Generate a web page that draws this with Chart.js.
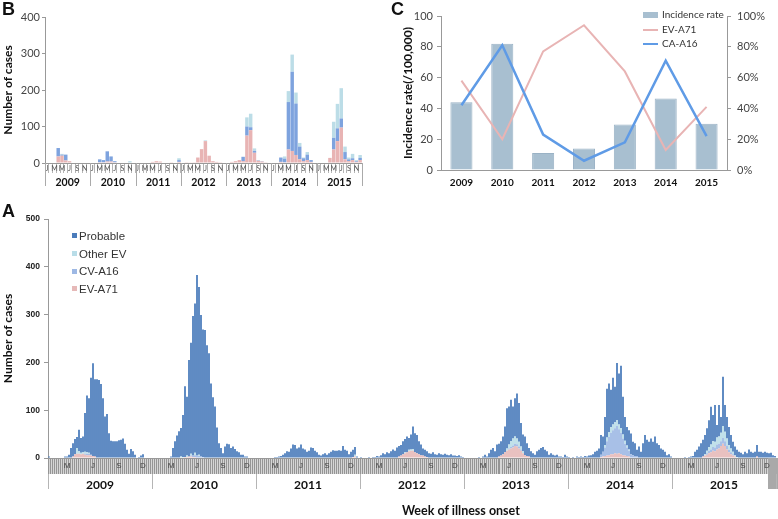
<!DOCTYPE html>
<html>
<head>
<meta charset="utf-8">
<title>HFMD cases by week, month and year</title>
<script src="https://cdn.jsdelivr.net/npm/chart.js@4.4.1/dist/chart.umd.min.js"></script>
<style>
  body { margin: 0; background: #fff; }
  #page { position: relative; width: 778px; height: 519px; overflow: hidden; }
  canvas { position: absolute; }
  .tag { position: absolute; font: bold 18px "Liberation Sans", Arial, sans-serif; color: #111; line-height: 18px; }
  .legA { position: absolute; left: 72px; top: 228px; font: 11.5px "Liberation Sans", Arial, sans-serif; color: #333; }
  .legA div { height: 17.6px; line-height: 17.6px; white-space: nowrap; }
  .legA span { display: inline-block; width: 5px; height: 5px; margin-right: 2px; vertical-align: middle; position: relative; top: -1px; }
  .legC { position: absolute; left: 643px; top: 7px; font: 10px Lato, sans-serif; color: #333; }
  .legC div { height: 14.5px; line-height: 14.5px; white-space: nowrap; }
  .legC .box { display: inline-block; width: 15px; height: 6px; background: #a8bfd0; margin-right: 4px; vertical-align: middle; }
  .legC .ln { display: inline-block; width: 15px; height: 2px; margin-right: 4px; vertical-align: middle; }
  .xtitle { position: absolute; left: 402px; top: 503px; font: bold 12.5px Lato, sans-serif; color: #111; white-space: nowrap; }
</style>
</head>
<body>
<div id="page">
  <canvas id="chartB" width="390" height="190" style="left:0;top:0"></canvas>
  <canvas id="chartC" width="388" height="190" style="left:390px;top:0"></canvas>
  <canvas id="chartA" width="778" height="329" style="left:0;top:190px"></canvas>
  <div class="tag" style="left:2px;top:0">B</div>
  <div class="tag" style="left:391px;top:0">C</div>
  <div class="tag" style="left:2px;top:202px">A</div>
  <div class="legA">
    <div><span style="background:#4a7cbb"></span>Probable</div>
    <div><span style="background:#b9dde8"></span>Other EV</div>
    <div><span style="background:#9db8e4"></span>CV-A16</div>
    <div><span style="background:#e6b9b8"></span>EV-A71</div>
  </div>
  <div class="legC">
    <div><span class="box"></span>Incidence rate</div>
    <div><span class="ln" style="background:#e8b4b4"></span>EV-A71</div>
    <div><span class="ln" style="background:#5f9be6"></span>CA-A16</div>
  </div>
  <div class="xtitle">Week of illness onset</div>
</div>
<script>
const yearLabels = ['2009', '2010', '2011', '2012', '2013', '2014', '2015'];

// panel C: yearly incidence and share of typed cases
const incidenceRate = [44, 82, 11, 14, 29.5, 46.5, 30];
const ev71Share = [58, 20, 77, 94, 64, 13, 41];
const ca16Share = [42, 81, 23, 6, 18, 71, 22];

// panel B: lab-confirmed cases per month, Jan..Dec for each year
const monthLettersB = ['J', 'M', 'M', 'J', 'S', 'N'];
const monthSlotsB = [0, 2, 4, 6, 8, 10];
const ev71Monthly = [
  0, 0, 0, 18, 20, 7, 5, 0, 0, 0, 0, 0,
  0, 0, 2, 2, 4, 4, 2, 0, 0, 0, 0, 0,
  0, 0, 0, 0, 3, 5, 4, 0, 0, 2, 0, 3,
  0, 2, 1, 2, 15, 38, 60, 20, 5, 3, 2, 0,
  0, 3, 5, 8, 5, 75, 90, 28, 6, 4, 2, 0,
  0, 0, 3, 2, 37, 33, 22, 10, 5, 8, 3, 0,
  0, 0, 0, 14, 37, 60, 97, 10, 5, 8, 3, 8
];
const cva16Monthly = [
  0, 0, 0, 23, 3, 16, 0, 0, 0, 0, 0, 0,
  0, 0, 8, 6, 28, 14, 3, 0, 0, 0, 0, 0,
  0, 0, 0, 0, 0, 0, 0, 0, 0, 0, 0, 5,
  0, 0, 0, 0, 0, 0, 0, 0, 0, 0, 0, 0,
  0, 0, 0, 0, 12, 25, 8, 5, 1, 1, 0, 0,
  0, 0, 12, 10, 130, 217, 141, 35, 8, 15, 5, 0,
  0, 0, 0, 0, 32, 35, 25, 20, 5, 5, 2, 6
];
const otherMonthly = [
  0, 0, 0, 0, 2, 0, 0, 0, 0, 0, 0, 0,
  0, 0, 0, 0, 0, 0, 0, 0, 0, 0, 5, 0,
  0, 0, 0, 0, 0, 0, 0, 0, 0, 0, 0, 5,
  0, 0, 0, 0, 0, 0, 2, 0, 0, 0, 0, 0,
  0, 0, 0, 0, 0, 25, 37, 7, 1, 0, 0, 0,
  0, 0, 0, 6, 30, 47, 30, 10, 2, 7, 0, 0,
  0, 0, 0, 0, 44, 67, 83, 15, 5, 12, 3, 8
];

// panel A: all cases per week (52 weeks a year)
const monthLettersA = ['M', 'J', 'S', 'D'];
const monthWeeksA = [9, 22, 35, 47];
const total2009 = [3,1,0,0,1,0,0,1,3,3, 7,21,31,40,44,59,42,45,94,131, 125,168,198,165,165,163,155,125,87,92, 52,36,35,35,35,37,38,41,30,17, 9,19,14,7,1,2,5,8,1,0, 0,0];
const total2010 = [0,0,1,0,0,0,0,0,1,3, 21,35,47,56,63,90,150,128,205,241, 297,323,383,358,299,269,268,236,219,156, 127,108,64,31,21,10,24,30,29,21, 24,19,14,12,7,7,3,3,1,0, 1,0];
const total2011 = [1,0,1,0,0,1,0,0,1,2, 2,3,4,7,10,14,13,20,28,27, 20,22,28,20,18,13,15,22,21,15, 12,7,5,8,10,7,10,13,16,15, 15,16,15,25,17,15,8,13,17,23, 3,0];
const total2012 = [2,1,0,1,2,1,2,2,4,3, 6,10,8,12,10,14,18,15,22,25, 27,35,40,45,42,49,66,52,48,35, 28,20,17,14,10,9,12,8,7,10, 8,7,9,7,6,8,5,5,4,6, 3,2];
const total2013 = [0,0,1,0,0,1,0,2,1,3, 7,3,10,17,21,14,28,30,35,45, 66,104,108,122,108,125,135,115,73,49, 45,31,21,14,10,7,14,17,21,23, 17,14,7,10,7,5,7,3,3,2, 7,3];
const total2014 = [2,1,2,1,3,2,3,2,4,3, 5,6,8,13,15,20,48,45,86,145, 156,143,168,149,199,177,193,128,86,65, 58,51,34,31,17,24,13,31,48,38, 34,41,34,45,31,27,20,17,13,6, 8,3];
const total2015 = [1,0,1,0,1,0,2,1,2,3, 4,13,17,24,31,38,48,62,79,107, 90,111,69,111,86,170,111,86,65,48, 34,24,17,13,11,8,13,10,18,13, 11,13,27,13,13,11,13,11,10,11, 6,4];

// panel A: typed cases per week
const ev71_2009 = [0,0,0,0,0,0,0,0,0,0, 0,0,3,8,9,9,8,9,7,6, 6,5,4,3,0,0,0,0,0,0, 0,0,0,0,0,0,0,0,0,0, 0,0,0,0,0,0,0,0,0,0, 0,0];
const ev71_2010 = [0,0,0,0,0,0,0,0,0,0, 0,0,0,0,0,0,2,2,3,3, 2,2,0,0,0,0,0,0,0,0, 0,0,0,0,0,0,0,0,0,0, 0,0,0,0,0,0,0,0,0,0, 0,0];
const ev71_2011 = [0,0,0,0,0,0,0,0,0,0, 0,0,0,0,0,0,0,0,0,0, 0,0,0,0,0,0,0,0,0,0, 0,0,0,0,0,0,0,0,0,0, 0,0,0,0,0,0,0,0,2,3, 0,0];
const ev71_2012 = [0,0,0,0,0,0,0,0,0,0, 0,0,0,0,0,0,0,0,0,3, 5,8,10,12,14,15,15,12,10,8, 6,5,3,2,0,0,0,0,0,0, 0,0,0,0,0,0,0,0,0,0, 0,0];
const ev71_2013 = [0,0,0,0,0,0,0,0,0,0, 0,0,0,0,0,0,0,3,5,8, 12,15,18,20,22,25,24,20,15,10, 6,4,3,0,0,0,0,0,0,0, 0,0,0,0,0,0,0,0,0,0, 0,0];
const ev71_2014 = [0,0,0,0,0,0,0,0,0,0, 0,0,0,0,0,0,2,3,4,5, 6,8,8,10,9,10,8,6,5,4, 3,0,0,0,0,0,0,0,0,0, 0,0,0,0,0,0,0,0,0,0, 0,0];
const ev71_2015 = [0,0,0,0,0,0,0,0,0,0, 0,0,0,0,0,3,5,7,10,12, 15,14,18,20,25,30,25,18,12,8, 5,3,0,0,0,0,0,0,0,0, 0,0,3,0,0,0,0,0,0,0, 0,0];

const cva16_2009 = [0,0,0,0,0,0,0,0,0,0, 0,0,0,0,0,0,0,0,2,3, 3,2,0,0,0,0,0,0,0,0, 0,0,0,0,0,0,0,0,0,0, 0,0,0,0,0,0,0,0,0,0, 0,0];
const cva16_2010 = [0,0,0,0,0,0,0,0,0,0, 0,0,0,0,0,0,0,0,0,2, 3,4,5,4,3,2,0,0,0,0, 0,0,0,0,0,0,0,0,0,0, 0,0,0,0,0,0,0,0,0,0, 0,0];
const cva16_2011 = [0,0,0,0,0,0,0,0,0,0, 0,0,0,0,0,0,0,0,0,0, 0,0,0,0,0,0,0,0,0,0, 0,0,0,0,0,0,0,0,0,0, 0,0,0,0,0,0,0,0,0,0, 0,0];
const cva16_2012 = [0,0,0,0,0,0,0,0,0,0, 0,0,0,0,0,0,0,0,0,0, 0,0,0,0,0,0,0,0,0,0, 0,0,0,0,0,0,0,0,0,0, 0,0,0,0,0,0,0,0,0,0, 0,0];
const cva16_2013 = [0,0,0,0,0,0,0,0,0,0, 0,0,0,0,0,0,0,0,0,0, 0,0,2,3,4,5,5,4,3,0, 0,0,0,0,0,0,0,0,0,0, 0,0,0,0,0,0,0,0,0,0, 0,0];
const cva16_2014 = [0,0,0,0,0,0,0,0,0,0, 0,0,0,0,0,0,5,10,18,30, 38,45,50,52,58,50,45,35,25,18, 12,8,6,4,3,0,0,0,0,0, 0,0,0,0,0,0,0,0,0,0, 0,0];
const cva16_2015 = [0,0,0,0,0,0,0,0,0,0, 0,0,0,0,0,0,0,3,5,6, 8,8,10,10,10,12,10,8,5,4, 3,0,0,0,0,0,0,0,0,0, 0,0,0,0,0,0,0,0,0,0, 0,0];

const other_2009 = [0,0,0,0,0,0,0,0,0,0, 0,0,0,0,12,5,3,3,4,3, 2,0,0,0,0,0,0,0,0,0, 0,0,0,0,0,0,0,0,0,0, 0,0,0,0,0,0,0,0,0,0, 0,0];
const other_2010 = [0,0,0,0,0,0,0,0,0,0, 0,0,0,0,3,2,0,3,0,4, 0,5,0,3,0,0,0,0,0,0, 0,0,0,0,0,0,0,0,0,0, 0,0,0,0,0,0,0,0,0,0, 0,0];
const other_2011 = [0,0,0,0,0,0,0,0,0,0, 0,0,0,0,0,0,0,0,0,0, 0,0,0,0,0,0,0,0,0,0, 0,0,0,0,0,0,0,0,0,0, 0,0,0,0,0,0,0,0,0,4, 0,0];
const other_2012 = [0,0,0,0,0,0,0,0,0,0, 0,0,0,0,0,0,0,0,0,0, 0,0,2,0,3,3,4,0,0,0, 0,0,0,0,0,0,0,0,0,0, 0,0,0,0,0,0,0,0,0,0, 0,0];
const other_2013 = [0,0,0,0,0,0,0,0,0,0, 0,0,0,0,0,0,0,0,0,0, 0,5,8,12,15,15,12,10,6,4, 0,0,0,0,0,0,0,0,0,0, 0,0,0,0,0,0,0,0,0,0, 0,0];
const other_2014 = [0,0,0,0,0,0,0,0,0,0, 0,0,0,0,0,0,0,0,5,8, 10,12,12,13,12,10,10,8,6,4, 3,0,0,0,0,0,0,0,0,0, 0,0,0,0,0,0,0,0,0,0, 0,0];
const other_2015 = [0,0,0,0,0,0,0,0,0,0, 0,0,0,0,0,0,3,5,8,10, 12,12,15,15,18,25,20,15,10,8, 5,3,2,0,0,0,0,0,0,0, 0,0,0,0,0,0,0,0,0,0, 0,0];

const weeksPerYear = 52;
const trailingWeeks = [0]; // empty slot after the last year

const totalWeekly = [].concat(total2009, total2010, total2011, total2012, total2013, total2014, total2015, trailingWeeks);
const ev71Weekly = [].concat(ev71_2009, ev71_2010, ev71_2011, ev71_2012, ev71_2013, ev71_2014, ev71_2015, trailingWeeks);
const cva16Weekly = [].concat(cva16_2009, cva16_2010, cva16_2011, cva16_2012, cva16_2013, cva16_2014, cva16_2015, trailingWeeks);
const otherWeekly = [].concat(other_2009, other_2010, other_2011, other_2012, other_2013, other_2014, other_2015, trailingWeeks);
// probable = cases not typed in the lab
const probableWeekly = totalWeekly.map((t, i) => Math.max(0, t - ev71Weekly[i] - cva16Weekly[i] - otherWeekly[i]));
const weekLabels = totalWeekly.map((t, i) => (yearLabels[Math.floor(i / weeksPerYear)] || '') + ' w' + (i % weeksPerYear + 1));
const monthLabels = ev71Monthly.map((v, i) => yearLabels[Math.floor(i / 12)] + '-' + (i % 12 + 1));

Chart.defaults.font.family = 'Lato, "Liberation Sans", Arial, sans-serif';
Chart.defaults.color = '#333';

// draws month letters, year separators and year names under a time axis
const yearAxis = {
  id: 'yearAxis',
  beforeDraw(chart, args, o) {
    if (!o.band) return;
    const { ctx, chartArea: ca } = chart;
    ctx.save();
    ctx.fillStyle = o.band;
    ctx.fillRect(ca.left, ca.bottom, ca.right - ca.left, o.bandHeight);
    ctx.restore();
  },
  afterDraw(chart, args, o) {
    const { ctx, chartArea: ca } = chart;
    const x = chart.scales.x;
    const step = x.getPixelForValue(1) - x.getPixelForValue(0);
    const edge = i => x.getPixelForValue(i) - step / 2;
    ctx.save();
    if (o.endFrom) {
      ctx.fillStyle = o.endColor;
      ctx.fillRect(edge(o.endFrom), ca.bottom, ca.right - edge(o.endFrom), o.sepTo);
    }
    ctx.textAlign = 'center';
    ctx.textBaseline = 'middle';
    ctx.font = o.monthFont;
    ctx.fillStyle = o.monthColor;
    o.years.forEach((yr, k) => {
      o.monthAt.forEach((m, j) => {
        ctx.fillText(o.monthText[j], x.getPixelForValue(k * o.perYear + m), ca.bottom + o.monthY);
      });
    });
    ctx.strokeStyle = o.sepColor;
    ctx.lineWidth = 1;
    for (let k = 0; k <= o.years.length; k++) {
      const px = Math.round(edge(k * o.perYear)) + 0.5;
      ctx.beginPath();
      ctx.moveTo(px, ca.bottom + o.sepFrom);
      ctx.lineTo(px, ca.bottom + o.sepTo);
      ctx.stroke();
    }
    ctx.font = o.yearFont;
    ctx.fillStyle = '#111';
    o.years.forEach((yr, k) => {
      const mid = (edge(k * o.perYear) + edge((k + 1) * o.perYear)) / 2;
      ctx.fillText(yr, mid, ca.bottom + o.yearY);
    });
    ctx.restore();
  }
};

// ---- panel B
new Chart(document.getElementById('chartB'), {
  type: 'bar',
  data: {
    labels: monthLabels,
    datasets: [
      { label: 'EV-A71', data: ev71Monthly, backgroundColor: '#e8b4b4' },
      { label: 'CV-A16', data: cva16Monthly, backgroundColor: '#7ea3de' },
      { label: 'Other EV', data: otherMonthly, backgroundColor: '#bcdde7' }
    ]
  },
  options: {
    responsive: false,
    animation: false,
    layout: { padding: { top: 17, right: 28, left: 0, bottom: 0 } },
    datasets: { bar: { barPercentage: 0.92, categoryPercentage: 1 } },
    plugins: {
      legend: { display: false },
      tooltip: { enabled: false },
      yearAxis: {
        years: yearLabels, perYear: 12,
        monthAt: monthSlotsB, monthText: monthLettersB, monthY: 6, monthFont: '7px Lato', monthColor: '#555',
        sepFrom: 0, sepTo: 23, sepColor: '#aaa',
        yearY: 20, yearFont: 'bold 10.5px Lato'
      }
    },
    scales: {
      x: {
        stacked: true,
        ticks: { display: false },
        grid: { drawOnChartArea: false, tickLength: 10, color: '#b5b5b5' },
        border: { color: '#999' },
        afterFit(s) { s.height = 27; }
      },
      y: {
        stacked: true, min: 0, max: 400,
        ticks: { stepSize: 100, font: { size: 11 }, color: '#444', padding: 2 },
        grid: { drawOnChartArea: false, tickLength: 3, color: '#999' },
        border: { color: '#999' },
        title: { display: true, text: 'Number of cases', font: { size: 12, weight: 'bold' }, color: '#111', padding: { top: 1, bottom: 0 } },
        afterFit(s) { s.width = 45; }
      }
    }
  },
  plugins: [yearAxis]
});

// ---- panel C
new Chart(document.getElementById('chartC'), {
  type: 'bar',
  data: {
    labels: yearLabels,
    datasets: [
      { type: 'line', label: 'EV-A71', data: ev71Share, yAxisID: 'y2', borderColor: '#e8b4b4', borderWidth: 2, pointRadius: 0, tension: 0, order: 1 },
      { type: 'line', label: 'CA-A16', data: ca16Share, yAxisID: 'y2', borderColor: '#5f9be6', borderWidth: 2.5, pointRadius: 0, tension: 0, order: 0 },
      { type: 'bar', label: 'Incidence rate', data: incidenceRate, yAxisID: 'y', backgroundColor: '#a8bfd0', borderColor: '#9ab2c5', borderWidth: 1, barPercentage: 0.54, categoryPercentage: 1, order: 2 }
    ]
  },
  options: {
    responsive: false,
    animation: false,
    layout: { padding: { top: 16, left: 0, right: 0, bottom: 0 } },
    plugins: { legend: { display: false }, tooltip: { enabled: false } },
    scales: {
      x: {
        grid: { display: false, drawTicks: false },
        border: { color: '#999' },
        ticks: { font: { size: 10, weight: 'bold' }, color: '#111', padding: 7 },
        afterFit(s) { s.height = 20; }
      },
      y: {
        position: 'left', min: 0, max: 100,
        ticks: { stepSize: 20, font: { size: 11 }, color: '#444', padding: 4 },
        grid: { drawOnChartArea: false, tickLength: 4, color: '#999' },
        border: { color: '#999' },
        title: { display: true, text: 'Incidence rate(/100,000)', font: { size: 12, weight: 'bold' }, color: '#111', padding: { top: 11, bottom: 0 } },
        afterFit(s) { s.width = 51; }
      },
      y2: {
        position: 'right', min: 0, max: 100,
        ticks: { stepSize: 20, callback: v => v + '%', font: { size: 11 }, color: '#444', padding: 6 },
        grid: { drawOnChartArea: false, tickLength: 4, color: '#999' },
        border: { color: '#999' },
        afterFit(s) { s.width = 51; }
      }
    }
  }
});

// ---- panel A
new Chart(document.getElementById('chartA'), {
  type: 'bar',
  data: {
    labels: weekLabels,
    datasets: [
      { label: 'EV-A71', data: ev71Weekly, backgroundColor: '#e6b9b8' },
      { label: 'CV-A16', data: cva16Weekly, backgroundColor: '#9db8e4' },
      { label: 'Other EV', data: otherWeekly, backgroundColor: '#b9dde8' },
      { label: 'Probable', data: probableWeekly, backgroundColor: '#4a7cbb' }
    ]
  },
  options: {
    responsive: false,
    animation: false,
    layout: { padding: { top: 29, right: 0, left: 0, bottom: 0 } },
    datasets: { bar: { barPercentage: 0.88, categoryPercentage: 1, borderWidth: 0 } },
    plugins: {
      legend: { display: false },
      tooltip: { enabled: false },
      yearAxis: {
        years: yearLabels, perYear: weeksPerYear,
        band: '#d6d6d6', bandHeight: 16,
        monthAt: monthWeeksA, monthText: monthLettersA, monthY: 8, monthFont: '8px "Liberation Sans"', monthColor: '#444',
        sepFrom: 16, sepTo: 31, sepColor: '#b5b5b5',
        endFrom: 360, endColor: '#a9a9a9',
        yearY: 27, yearFont: 'bold 12px Lato'
      }
    },
    scales: {
      x: {
        stacked: true,
        ticks: { display: false },
        grid: { drawOnChartArea: false, tickLength: 16, color: '#959595' },
        border: { color: '#999' },
        afterFit(s) { s.height = 61; }
      },
      y: {
        stacked: true, min: 0, max: 500,
        ticks: { stepSize: 100, font: { size: 8.5, weight: 'bold', family: '"Liberation Sans", Arial, sans-serif' }, color: '#222', padding: 4 },
        grid: { drawOnChartArea: false, tickLength: 4, color: '#999' },
        border: { color: '#999' },
        title: { display: true, text: 'Number of cases', font: { size: 12, weight: 'bold' }, color: '#111', padding: { top: 1, bottom: 0 } },
        afterFit(s) { s.width = 48; }
      }
    }
  },
  plugins: [yearAxis]
});
</script>
</body>
</html>
